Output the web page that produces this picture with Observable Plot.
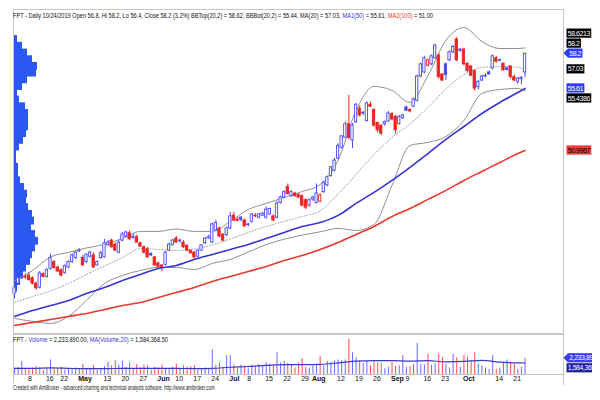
<!DOCTYPE html>
<html><head><meta charset="utf-8">
<script src="https://cdn.jsdelivr.net/npm/d3@7"></script>
<script src="https://cdn.jsdelivr.net/npm/@observablehq/plot@0.6"></script>
<style>
html,body{margin:0;padding:0;background:#fff;}
#wrap{position:relative;width:600px;height:400px;overflow:hidden;font-family:"Liberation Sans",Arial,sans-serif;}
#wrap > svg{position:absolute;left:0;}
</style></head><body><div id="wrap"></div>
<script>
// ---------- calendar (HOSE trading days) ----------
const firstDay = "2019-04-02", lastDay = "2019-10-24";
const holidays = ["2019-04-15","2019-04-29","2019-04-30","2019-05-01","2019-09-02"];
const dates = [];
for (let d = new Date(firstDay + "T00:00:00Z"); d <= new Date(lastDay + "T00:00:00Z"); d.setUTCDate(d.getUTCDate() + 1)) {
  const s = d.toISOString().slice(0, 10), w = d.getUTCDay();
  if (w !== 0 && w !== 6 && !holidays.includes(s)) dates.push(s);
}

// ---------- daily prices (thousand VND) ----------
const open = [
40.35,41.1,41.5,41.6,41.7,41.5,41.1,40.8,41.8,41.6,
42.2,42.7,42.3,42.1,41.9,42.3,42.7,43.0,43.5,43.0,
42.7,43.1,43.2,42.45,43.0,43.05,43.95,44.3,44.0,43.4,
44.3,44.6,44.85,44.5,44.55,44.1,43.8,43.65,43.3,43.05,
42.6,42.45,42.5,43.55,43.95,44.45,44.3,44.15,43.9,43.55,
43.4,43.1,43.55,44.1,44.45,44.15,45.05,45.2,44.75,44.7,
45.2,46.15,45.85,46.0,45.8,45.5,45.7,46.1,46.0,46.15,
46.0,46.25,46.1,46.0,47.1,47.5,48.3,47.6,47.8,47.7,
47.6,47.3,46.9,47.35,47.1,47.2,47.9,48.4,49.1,49.5,
50.4,51.2,51.95,52.95,51.75,53.1,54.1,53.8,53.2,54.4,
54.0,53.05,52.85,52.95,53.15,53.7,53.5,52.95,53.4,54.2,
54.0,54.25,54.7,56.5,56.8,57.3,57.4,57.85,58.05,56.65,
57.4,57.7,58.3,59.25,58.4,58.5,57.45,57.25,56.9,55.7,
56.2,56.5,56.8,57.1,57.85,57.7,57.45,57.1,57.25,56.45,
56.1,56.3,56.8];
const high = [
41.0,41.6,41.9,41.8,41.9,41.6,41.2,42.0,41.9,42.2,
43.3,42.8,42.4,42.2,42.5,42.8,43.3,43.5,43.7,43.2,
43.3,43.5,43.4,42.8,43.5,44.4,44.3,44.4,44.1,44.3,
44.9,45.0,45.0,44.8,44.7,44.2,43.9,43.8,43.4,43.1,
42.7,42.5,43.5,44.1,44.4,44.6,44.4,44.3,44.0,43.6,
43.5,43.6,44.0,44.5,44.7,45.6,45.8,45.3,44.8,45.3,
46.4,46.4,46.0,46.1,45.9,45.6,46.3,46.3,46.3,46.4,
46.8,46.7,46.2,47.2,47.6,48.0,48.5,48.0,47.9,47.8,
47.7,47.4,47.4,47.6,48.5,47.8,48.7,49.1,49.8,50.4,
51.5,52.1,53.1,55.1,53.0,54.5,54.3,53.9,54.6,54.6,
54.1,53.1,52.9,53.2,53.9,53.8,53.6,53.6,53.7,54.3,
54.1,54.9,56.6,57.5,58.0,57.8,58.1,58.9,58.2,56.7,
57.5,58.4,58.8,59.4,58.6,58.6,57.5,57.3,57.0,56.2,
56.6,56.7,56.9,58.1,58.0,57.8,57.5,57.2,57.3,56.6,
56.4,56.5,58.2];
const low = [
40.2,41.0,41.4,41.4,41.3,41.0,40.6,40.7,41.5,41.5,
42.1,42.2,41.9,41.6,41.8,42.2,42.6,42.9,43.4,42.4,
42.6,43.0,42.2,42.4,42.9,43.0,43.9,43.75,43.5,43.3,
44.2,44.5,44.3,44.4,44.1,43.8,43.3,43.0,43.1,42.4,
42.3,42.0,42.4,43.5,43.9,44.1,44.1,43.7,43.5,43.3,
42.9,43.0,43.5,44.0,44.4,44.1,45.0,44.5,44.2,44.6,
45.1,45.7,45.7,45.7,45.3,45.3,45.6,46.0,45.9,46.1,
45.9,46.2,45.7,45.9,47.0,47.4,47.7,47.5,47.5,47.4,
46.8,46.6,46.8,47.2,47.0,47.1,47.8,48.3,49.0,49.4,
50.3,51.1,51.9,51.8,51.15,53.0,53.5,53.6,53.1,54.2,
52.7,52.3,52.1,52.8,53.1,53.2,52.2,52.9,53.3,53.9,
53.8,54.2,54.6,56.4,56.7,57.2,57.3,57.8,56.3,56.1,
56.2,57.6,58.2,57.6,58.3,57.3,56.8,56.5,55.4,55.5,
56.1,56.4,56.6,57.0,57.5,57.6,56.9,56.9,56.3,56.1,
55.9,55.9,56.4];
const close = [
40.8,41.5,41.6,41.55,41.35,41.1,40.75,41.85,41.6,42.1,
43.0,42.25,42.0,41.7,42.4,42.7,43.2,43.4,43.55,42.45,
43.25,43.4,42.3,42.7,43.35,44.1,44.15,43.8,43.55,44.15,
44.75,44.9,44.4,44.6,44.15,43.85,43.4,43.05,43.2,42.45,
42.35,42.25,43.4,44.0,44.3,44.15,44.25,43.8,43.55,43.35,
43.05,43.55,43.95,44.45,44.55,45.5,45.6,44.6,44.3,45.2,
46.1,45.8,45.75,45.85,45.35,45.45,46.25,46.15,46.25,46.3,
46.6,46.65,45.8,47.05,47.5,47.9,47.75,47.9,47.6,47.5,
46.9,46.75,47.3,47.5,47.8,47.65,48.6,49.0,49.75,50.25,
51.35,52.05,52.95,51.95,52.85,54.4,53.6,53.75,54.5,54.25,
52.85,52.5,52.25,53.1,53.75,53.3,52.5,53.5,53.6,53.95,
53.9,54.8,56.5,57.4,57.85,57.7,58.0,58.8,56.45,56.2,
56.6,58.3,58.7,57.7,58.5,57.4,56.9,56.55,55.6,56.1,
56.5,56.55,56.65,58.0,57.6,57.65,56.95,57.0,56.45,56.2,
56.35,56.4,58.2];
// volume, millions of shares
const volume = [
0.9,1.0,1.8,0.7,0.8,0.9,1.1,0.9,0.6,0.8,
2.0,0.7,0.8,1.0,0.6,0.7,0.8,0.9,0.7,1.4,
0.8,0.7,1.2,0.6,0.8,1.1,1.7,1.2,1.9,1.3,
1.8,1.0,1.6,0.8,1.4,0.9,1.3,1.2,0.6,1.0,
0.9,1.3,0.8,0.7,1.0,1.4,0.7,1.2,1.0,1.1,
1.2,0.6,0.8,0.9,0.7,3.4,1.3,1.6,1.0,2.6,
2.6,1.3,0.9,1.3,1.2,0.9,1.3,1.1,1.4,1.2,
1.6,1.4,1.2,3.0,1.6,1.8,1.5,1.3,0.9,1.6,
2.2,1.0,0.9,1.2,1.4,2.5,1.2,1.8,1.7,1.9,
2.0,1.9,2.0,4.9,3.0,2.3,1.9,1.5,1.8,1.2,
1.9,1.6,1.5,0.8,1.0,1.7,1.1,1.2,2.6,1.0,
1.1,1.4,4.3,1.4,1.3,2.8,1.3,1.5,2.8,2.3,
1.4,0.9,2.8,2.3,1.0,2.6,2.4,1.9,3.0,1.4,
1.2,0.9,0.7,2.6,0.7,0.9,1.7,2.0,1.7,1.4,
0.7,1.0,2.23389];

// ---------- indicator lines, read at weekly sample dates ----------
const sampleDates = ["2019-04-02","2019-04-09","2019-04-17","2019-04-24","2019-05-06","2019-05-13","2019-05-20","2019-05-27",
"2019-06-03","2019-06-10","2019-06-17","2019-06-24","2019-07-01","2019-07-08","2019-07-15","2019-07-22","2019-07-29",
"2019-08-05","2019-08-12","2019-08-19","2019-08-26","2019-09-03","2019-09-10","2019-09-17","2019-09-24","2019-10-01",
"2019-10-08","2019-10-15","2019-10-22","2019-10-24"];
const ma20 = [39.70,40.14,40.55,41.11,41.78,42.41,43.04,43.71,43.64,43.57,43.68,43.97,44.42,44.90,45.35,45.72,46.09,46.50,47.76,49.21,50.70,51.96,52.97,54.20,55.57,56.65,57.17,57.24,57.17,57.03];
const bbTop = [41.33,42.08,43.08,43.42,43.75,44.01,44.46,44.98,44.98,45.16,44.98,44.98,45.72,46.61,47.06,47.50,47.95,48.47,50.26,53.97,55.76,55.46,54.57,56.57,59.18,60.14,59.10,58.58,58.58,58.6213];
const bbBot = [38.51,38.29,38.14,38.66,39.85,41.11,41.70,42.08,42.30,42.30,42.15,42.60,42.90,43.45,44.00,44.40,44.70,44.95,45.20,45.05,45.50,48.40,51.37,51.60,52.04,53.23,55.24,55.53,55.61,55.4386];
const ma50 = [38.66,39.10,39.47,39.84,40.37,40.81,41.33,41.78,42.23,42.45,42.90,43.27,43.64,44.01,44.46,44.90,45.35,45.64,46.17,47.06,47.88,48.77,49.74,50.77,51.82,52.78,53.75,54.57,55.31,55.61];
const ma100 = [37.99,38.21,38.43,38.66,38.88,39.18,39.47,39.70,40.07,40.44,40.81,41.26,41.63,42.00,42.37,42.82,43.19,43.64,44.16,44.75,45.35,46.09,46.69,47.36,48.03,48.77,49.44,50.11,50.77,50.9967];
const volMA = [0.85,0.85,0.9,0.85,0.8,0.8,0.85,0.85,0.85,0.85,0.8,0.85,1.0,1.1,1.25,1.35,1.35,1.4,1.6,1.85,1.9,1.9,1.85,1.9,1.75,1.8,1.95,1.7,1.6,1.5843685];

// ---------- volume-at-price profile ----------
const profilePrice = [59.75,59.25,58.75,58.25,57.75,57.25,56.75,56.25,55.75,55.25,54.75,54.25,53.75,53.25,52.75,52.25,51.75,51.25,50.75,50.25,
49.75,49.25,48.75,48.25,47.75,47.25,46.75,46.25,45.75,45.25,44.75,44.25,43.75,43.25,42.75,42.25,41.75,41.25,40.75,40.25,39.75];
const profileVol = [1,4,9,14,19,24,23,14,9,4,6,12,15,15,15,13,10,6,3,3,5,5,7,11,14,13,15,19,21,18,22,25,22,19,17,13,10,7,4,2,1];

// ---------- date axis labels ----------
const tickDates = ["2019-04-08","2019-04-16","2019-04-22","2019-05-02","2019-05-13","2019-05-20","2019-05-27","2019-06-03","2019-06-10",
"2019-06-17","2019-06-24","2019-07-01","2019-07-08","2019-07-15","2019-07-22","2019-07-29","2019-08-01","2019-08-12","2019-08-19",
"2019-08-26","2019-09-03","2019-09-09","2019-09-16","2019-09-23","2019-10-01","2019-10-14","2019-10-21"];
const tickLabels = ["8","16","22","May","13","20","27","Jun","10","17","24","Jul","8","15","22","29","Aug","12","19","26","Sep","9","16","23","Oct","14","21"];

// ---------- styling ----------
const C = {up:"#4a4af2", down:"#ec2424", volUp:"#6b6bff", volDown:"#ff4b4b", ma50:"#3535d6", ma100:"#e8392e",
  band:"#8f8f8f", mid:"#9c9c9c", profile:"#2a58f0", frame:"#c6c6c6", vma:"#3a3ac8"};
const FONT = "Liberation Sans, Arial, sans-serif";
const priceDomain = [37.39, 61.48];
const xDomain = [-0.3, 152.7];
const binHalf = 0.25, binOverlap = 0.04;

// ---------- build rows ----------
const idx = new Map(dates.map((d, i) => [d, i]));
const rows = dates.map((d, i) => ({i, o: open[i], h: high[i], l: low[i], c: close[i], v: volume[i],
  up: close[i] >= (i ? close[i - 1] : open[i])}));
const lineRows = sampleDates.map((d, j) => ({i: idx.get(d), ma20: ma20[j], bbTop: bbTop[j], bbBot: bbBot[j], ma50: ma50[j], ma100: ma100[j], vma: volMA[j]}));
const profRows = profilePrice.map((p, j) => ({p, v: profileVol[j]}));
const ticks = tickDates.map((d, j) => ({i: idx.get(d), label: tickLabels[j], month: isNaN(+tickLabels[j])}));
const col = d => d.up ? C.up : C.down;

const wrap = document.getElementById("wrap");
const common = {width: 600, marginLeft: 13, marginRight: 37, style: {background: "transparent", fontFamily: FONT}};

// profile (beneath)
const prof = Plot.plot({...common, height: 334, marginTop: 9, marginBottom: 1,
  x: {domain: [0, 550], axis: null}, y: {domain: priceDomain, axis: null},
  marks: [Plot.rect(profRows, {x1: 0, x2: "v", y1: d => d.p - binHalf - binOverlap, y2: d => d.p + binHalf + binOverlap, fill: C.profile})]});
prof.style.top = "0px"; wrap.appendChild(prof);

// price pane
const price = Plot.plot({...common, height: 334, marginTop: 9, marginBottom: 1,
  x: {domain: xDomain, axis: null}, y: {domain: priceDomain, axis: null}, color: {type: "identity"},
  marks: [
    Plot.line(lineRows, {x: "i", y: "bbTop", stroke: C.band, strokeWidth: 1, curve: "monotone-x"}),
    Plot.line(lineRows, {x: "i", y: "bbBot", stroke: C.band, strokeWidth: 1, curve: "monotone-x"}),
    Plot.line(lineRows, {x: "i", y: "ma20", stroke: C.mid, strokeWidth: 1, strokeDasharray: "1,2", curve: "monotone-x"}),
    Plot.ruleX(rows, {x: "i", y1: "l", y2: "h", stroke: col, strokeWidth: 1}),
    Plot.rect(rows, {x1: d => d.i - 0.32, x2: d => d.i + 0.32, y1: "o", y2: "c",
      fill: d => d.c < d.o ? col(d) : "white", stroke: col, strokeWidth: 0.9}),
    Plot.line(lineRows, {x: "i", y: "ma50", stroke: C.ma50, strokeWidth: 1.6, curve: "monotone-x"}),
    Plot.line(lineRows, {x: "i", y: "ma100", stroke: C.ma100, strokeWidth: 1.6, curve: "monotone-x"})
  ]});
price.style.top = "0px"; wrap.appendChild(price);

// volume pane + date labels
const vol = Plot.plot({...common, height: 52, marginTop: 0, marginBottom: 12,
  x: {domain: xDomain, axis: null}, y: {domain: [0, 5.51], axis: null}, color: {type: "identity"},
  marks: [
    Plot.ruleX(rows, {x: "i", y1: 0, y2: "v", stroke: d => d.up ? C.volUp : C.volDown, strokeWidth: 1}),
    Plot.line(lineRows, {x: "i", y: "vma", stroke: C.vma, strokeWidth: 1.2, curve: "monotone-x"}),
    Plot.text(ticks.filter(d => !d.month), {x: "i", frameAnchor: "bottom", text: "label", textAnchor: "start",
      lineAnchor: "top", dy: 2, dx: -1, fontSize: 7, fill: "#111"}),
    Plot.text(ticks.filter(d => d.month), {x: "i", frameAnchor: "bottom", text: "label", textAnchor: "start",
      lineAnchor: "top", dy: 2, dx: -1, fontSize: 7, fontWeight: "bold", fill: "#111"})
  ]});
vol.style.top = "334px"; wrap.appendChild(vol);

// ---------- overlay: frame, titles, value labels ----------
const ov = d3.select(wrap).append("svg").attr("width", 600).attr("height", 400)
  .style("top", "0px").style("pointer-events", "none").style("font-family", FONT);
const line = (x1, y1, x2, y2, w = 1) => ov.append("line").attr("x1", x1).attr("y1", y1).attr("x2", x2).attr("y2", y2)
  .attr("stroke", C.frame).attr("stroke-width", w);
line(13.5, 9, 13.5, 383); line(563.5, 9, 563.5, 385); line(13, 9.5, 564, 9.5);
line(13, 334, 564, 334, 2); line(13, 374.5, 564, 374.5);

const L = close.length - 1;
const f2 = d3.format(".2f");
const [yy, mm, dd] = dates[L].split("-");
const chg = (close[L] / close[L - 1] - 1) * 100;
// one line of multi-coloured text, squeezed horizontally to the width it takes in the reference
function header(x, y, len, parts, size) {
  const g = ov.append("g");
  let cx = 0;
  parts.forEach(([s, c]) => {
    const t = g.append("text").attr("x", cx).attr("y", 0).attr("font-size", size).attr("fill", c)
      .attr("xml:space", "preserve").style("white-space", "pre").text(s);
    cx += t.node().getComputedTextLength();
  });
  g.attr("transform", `translate(${x},${y}) scale(${len / cx},1)`);
}
const Lm = ma20.length - 1;
header(13, 17.5, 420, [
  [`FPT - Daily ${+mm}/${+dd}/${yy} Open ${open[L]}, Hi ${high[L]}, Lo ${low[L]}, Close ${close[L]} (${chg.toFixed(1)}%) BBTop(20,2) = ${f2(bbTop[Lm])}, BBBot(20,2) = ${f2(bbBot[Lm])}, MA(20) = ${f2(ma20[Lm])}, `, "#111"],
  ["MA1(50)", C.ma50], [` = ${f2(ma50[Lm])}, `, "#111"], ["MA2(100)", C.ma100], [` = ${f2(ma100[Lm])}`, "#111"]], 7);
const fv = d3.format(",.2f");
header(13, 341.5, 155, [["FPT - ", "#111"], ["Volume", C.ma50], [` = ${fv(volume[L] * 1e6)}, `, "#111"],
  ["MA(Volume,20)", C.ma50], [` = ${fv(volMA[Lm] * 1e6)}`, "#111"]], 7);
header(13, 389.5, 202, [["Created with AmiBroker - advanced charting and technical analysis software. http://www.amibroker.com", "#222"]], 6.5);

// right-hand value labels with simple collision avoidance around the anchored last value
ov.append("clipPath").attr("id", "lab").append("rect").attr("x", 560).attr("y", 0).attr("width", 32).attr("height", 400);
const lg = ov.append("g").attr("clip-path", "url(#lab)");
const num = v => String(+v.toFixed(4));
function placeLabels(items, scaleY, offsetY) {
  items.forEach(d => d.y0 = scaleY(d.v) + offsetY);
  const a = items.find(d => d.anchor); a.y = a.y0;
  const above = items.filter(d => !d.anchor && d.y0 <= a.y0).sort((p, q) => q.y0 - p.y0);
  const below = items.filter(d => !d.anchor && d.y0 > a.y0).sort((p, q) => p.y0 - q.y0);
  let prev = a.y; above.forEach(d => { d.y = Math.min(d.y0, prev - 10); prev = d.y; });
  prev = a.y; below.forEach(d => { d.y = Math.max(d.y0, prev + 10); prev = d.y; });
  items.forEach(d => {
    const g = lg.append("g");
    const x0 = d.anchor ? 568 : 566.5;
    const t = g.append("text").attr("x", x0 + 1.2).attr("y", d.y + 2.6).attr("font-size", 7)
      .attr("letter-spacing", "-0.45").attr("fill", d.tc).text(d.text);
    const w = t.node().getComputedTextLength() + 2.6;
    g.insert("rect", "text").attr("x", x0).attr("y", d.y - 4.6).attr("width", w).attr("height", 9.2).attr("fill", d.bg);
    if (d.anchor) g.insert("path", "text").attr("d", `M563.5,${d.y}L${x0},${d.y - 4.6}L${x0},${d.y + 4.6}Z`).attr("fill", d.bg);
  });
}
const ys = price.scale("y");
placeLabels([
  {v: bbTop[Lm], text: num(bbTop[Lm]), bg: "#000", tc: "#fff"},
  {v: high[L], text: num(high[L]), bg: "#000", tc: "#fff"},
  {v: close[L], text: num(close[L]), bg: "#2f3cf5", tc: "#fff", anchor: true},
  {v: ma20[Lm], text: num(ma20[Lm]), bg: "#000", tc: "#fff"},
  {v: ma50[Lm], text: num(ma50[Lm]), bg: "#2f3cf5", tc: "#fff"},
  {v: bbBot[Lm], text: num(bbBot[Lm]), bg: "#000", tc: "#fff"},
  {v: ma100[Lm], text: num(ma100[Lm]), bg: "#f03a3a", tc: "#000"}
], v => ys.apply(v), 0);
const vs = vol.scale("y");
placeLabels([
  {v: volume[L], text: d3.format(",")(Math.round(volume[L] * 1e6)), bg: "#3b3bef", tc: "#fff", anchor: true},
  {v: volMA[Lm], text: d3.format(",")(Math.round(volMA[Lm] * 1e6)), bg: "#22229a", tc: "#fff"}
], v => vs.apply(v), 334);
</script></body></html>
